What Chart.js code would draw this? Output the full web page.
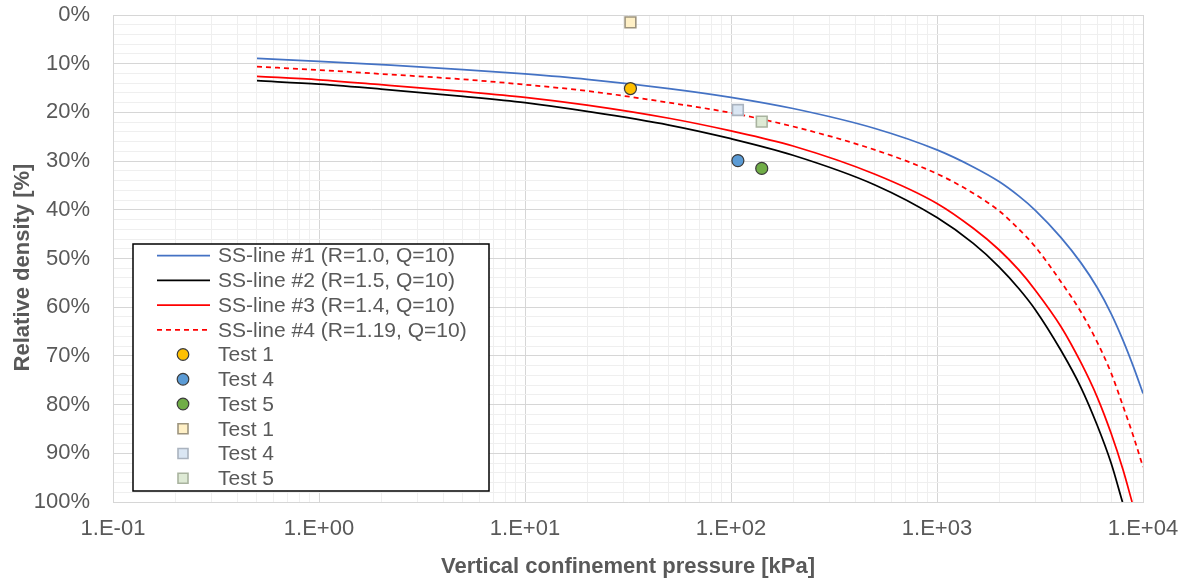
<!DOCTYPE html>
<html>
<head>
<meta charset="utf-8">
<script src="https://cdn.jsdelivr.net/npm/chart.js@4.4.1/dist/chart.umd.min.js"></script>
<style>
  html, body { margin: 0; padding: 0; background: #ffffff; }
  #wrap { width: 1195px; height: 584px; position: relative; }
</style>
</head>
<body>
<div id="wrap"><canvas id="chart" width="1195" height="584"></canvas></div>
<script>
// Vertical confinement pressure [kPa] at which each steady-state line is sampled
const pressure = [0.5, 1, 2, 5, 10, 20, 50, 100, 200, 500, 1000, 1500, 2000, 2500, 3000, 4000, 5000, 6000, 7000, 8000, 9000, 10000];
const pressureLine2 = [0.5, 1, 2, 5, 10, 20, 50, 100, 200, 500, 1000, 1500, 2000, 2500, 3000, 4000, 5000, 6000, 7000, 7950];
const pressureLine3 = [0.5, 1, 2, 5, 10, 20, 50, 100, 200, 500, 1000, 1500, 2000, 2500, 3000, 4000, 5000, 6000, 7000, 8000, 8850];

// Relative density [%] along each steady-state line
const ssLine1 = [8.9, 9.5, 10.2, 11.2, 12.1, 13.2, 15.1, 16.9, 19.2, 23.3, 27.7, 31.2, 34.2, 37.2, 40.1, 45.7, 50.9, 56.0, 61.3, 66.8, 72.3, 77.7];
const ssLine2 = [13.5, 14.2, 15.2, 16.7, 18.0, 19.8, 22.6, 25.4, 28.8, 34.9, 41.6, 46.9, 51.7, 56.2, 60.5, 68.9, 76.5, 84.3, 92.0, 100];
const ssLine3 = [12.6, 13.3, 14.3, 15.7, 16.9, 18.5, 21.2, 23.8, 26.9, 32.7, 38.7, 43.8, 48.2, 52.4, 56.5, 64.0, 71.4, 78.5, 85.9, 93.4, 100];
const ssLine4 = [10.6, 11.3, 12.1, 13.2, 14.3, 15.6, 18.0, 20.1, 22.9, 27.7, 32.6, 36.6, 40.2, 44.0, 47.6, 54.8, 61.0, 67.2, 73.5, 80.3, 86.6, 92.8];
const lineNames = ['SS-line #1 (R=1.0, Q=10)', 'SS-line #2 (R=1.5, Q=10)', 'SS-line #3 (R=1.4, Q=10)', 'SS-line #4 (R=1.19, Q=10)'];

// Laboratory tests
const testNames = ['Test 1', 'Test 4', 'Test 5'];
const testPressure = [32.5, 108, 141];
const testDensityCircle = [15.1, 29.9, 31.5];
const testDensitySquare = [1.5, 19.5, 21.9];

// Axis tick labels
const xDecades = [0.1, 1, 10, 100, 1000, 10000];
const xTickLabels = ['1.E-01', '1.E+00', '1.E+01', '1.E+02', '1.E+03', '1.E+04'];
const yTickLabels = ['0%', '10%', '20%', '30%', '40%', '50%', '60%', '70%', '80%', '90%', '100%'];

const TEXT = '#595959';
const FONT = "'Liberation Sans', Arial, sans-serif";

const toPoints = (xs, ys) => xs.map((x, i) => ({ x, y: ys[i] }));

function lineSet(label, xs, ys, color, width, dash) {
  return {
    label, data: toPoints(xs, ys), showLine: true,
    borderColor: color, backgroundColor: color, borderWidth: width, borderDash: dash || [],
    pointRadius: 0, pointHoverRadius: 0, cubicInterpolationMode: 'monotone', order: 1
  };
}
function markerSet(label, i, ys, style, fill, stroke, radius, bw) {
  return {
    label, data: [{ x: testPressure[i], y: ys[i] }], showLine: false,
    pointStyle: style, pointRadius: radius, pointHoverRadius: radius,
    backgroundColor: fill, borderColor: stroke, pointBorderWidth: bw, borderWidth: bw, order: 0
  };
}

const datasets = [
  lineSet(lineNames[0], pressure, ssLine1, '#4472C4', 1.75),
  lineSet(lineNames[1], pressureLine2, ssLine2, '#000000', 1.75),
  lineSet(lineNames[2], pressureLine3, ssLine3, '#FF0000', 1.75),
  lineSet(lineNames[3], pressure, ssLine4, '#FF0000', 1.75, [5, 4]),
  markerSet(testNames[0], 0, testDensityCircle, 'circle', '#FFC000', '#3a3a3a', 6, 1.2),
  markerSet(testNames[1], 1, testDensityCircle, 'circle', '#5B9BD5', '#3a3a3a', 6, 1.2),
  markerSet(testNames[2], 2, testDensityCircle, 'circle', '#70AD47', '#3a3a3a', 6, 1.2),
  markerSet(testNames[0], 0, testDensitySquare, 'rect', '#FFF0C6', '#9d947e', 7.6, 1.6),
  markerSet(testNames[1], 1, testDensitySquare, 'rect', '#DAE6F3', '#aab3bf', 7.6, 1.6),
  markerSet(testNames[2], 2, testDensitySquare, 'rect', '#DEEAD5', '#a9b39f', 7.6, 1.6)
];

const isDecade = v => Math.abs(Math.log10(v) - Math.round(Math.log10(v))) < 1e-9;

// Log grid: 1..9 per decade
const xGrid = [];
for (let d = 0; d < xDecades.length - 1; d++) {
  for (let m = 1; m <= 9; m++) xGrid.push(xDecades[d] * m);
}
xGrid.push(xDecades[xDecades.length - 1]);

const yGrid = [];
for (let v = 0; v <= 100; v += 2) yGrid.push(v);

// Legend drawn inside the plot area, lower left
const insideLegend = {
  id: 'insideLegend',
  afterDraw(chart) {
    const ctx = chart.ctx;
    const bx = 133, by = 244, bw = 356, bh = 247;
    ctx.save();
    ctx.fillStyle = '#ffffff';
    ctx.fillRect(bx, by, bw, bh);
    ctx.strokeStyle = '#000000';
    ctx.lineWidth = 1.5;
    ctx.strokeRect(bx, by, bw, bh);
    ctx.font = '21px ' + FONT;
    ctx.textBaseline = 'middle';
    ctx.textAlign = 'left';
    chart.data.datasets.forEach((ds, i) => {
      const cy = by + 11.5 + i * 24.75;
      if (ds.showLine) {
        ctx.save();
        ctx.strokeStyle = ds.borderColor;
        ctx.lineWidth = ds.borderWidth;
        ctx.setLineDash(ds.borderDash);
        ctx.beginPath();
        ctx.moveTo(157, cy);
        ctx.lineTo(210, cy);
        ctx.stroke();
        ctx.restore();
      } else {
        ctx.save();
        ctx.fillStyle = ds.backgroundColor;
        ctx.strokeStyle = ds.borderColor;
        ctx.lineWidth = ds.borderWidth;
        ctx.beginPath();
        if (ds.pointStyle === 'circle') {
          ctx.arc(183, cy, 5.8, 0, Math.PI * 2);
        } else {
          ctx.rect(178, cy - 5, 10, 10);
        }
        ctx.fill();
        ctx.stroke();
        ctx.restore();
      }
      ctx.fillStyle = TEXT;
      ctx.fillText(ds.label, 218, cy + 1);
    });
    ctx.restore();
  }
};

// Y-axis title, drawn slightly below the middle of the plot height
const yTitle = {
  id: 'yTitle',
  afterDraw(chart) {
    const ctx = chart.ctx;
    const area = chart.chartArea;
    ctx.save();
    ctx.translate(23, (area.top + area.bottom) / 2 + 9);
    ctx.rotate(-Math.PI / 2);
    ctx.font = 'bold 22px ' + FONT;
    ctx.fillStyle = TEXT;
    ctx.textAlign = 'center';
    ctx.textBaseline = 'middle';
    ctx.fillText('Relative density [%]', 0, 0);
    ctx.restore();
  }
};

new Chart(document.getElementById('chart'), {
  type: 'scatter',
  data: { datasets },
  plugins: [insideLegend, yTitle],
  options: {
    responsive: false,
    animation: false,
    devicePixelRatio: 1,
    layout: { padding: { top: 15, right: 52, bottom: 0, left: 0 } },
    plugins: { legend: { display: false }, tooltip: { enabled: false } },
    scales: {
      x: {
        type: 'logarithmic',
        min: 0.1,
        max: 10000,
        afterFit(s) { s.height = 82; s.paddingLeft = 0; s.paddingRight = 0; },
        afterBuildTicks(s) { s.ticks = xGrid.map(v => ({ value: v, major: isDecade(v) })); },
        ticks: {
          autoSkip: false,
          maxRotation: 0,
          padding: 14,
          color: TEXT,
          font: { family: FONT, size: 22 },
          callback(value) {
            const i = xDecades.findIndex(d => Math.abs(d - value) / d < 1e-9);
            return i >= 0 ? xTickLabels[i] : '';
          }
        },
        grid: {
          drawTicks: false,
          lineWidth: 1,
          color: ctx => (ctx.tick && isDecade(ctx.tick.value)) ? '#d6d6d6' : '#efefef'
        },
        border: { color: '#d6d6d6', width: 1 },
        title: {
          display: true,
          text: 'Vertical confinement pressure [kPa]',
          color: TEXT,
          padding: { top: 0, bottom: 4 },
          font: { family: FONT, size: 22, weight: 'bold' }
        }
      },
      y: {
        type: 'linear',
        reverse: true,
        min: 0,
        max: 100,
        afterFit(s) { s.width = 113; s.paddingTop = 0; s.paddingBottom = 0; },
        afterBuildTicks(s) { s.ticks = yGrid.map(v => ({ value: v })); },
        ticks: {
          autoSkip: false,
          padding: 23,
          color: TEXT,
          font: { family: FONT, size: 22 },
          callback(value) { return value % 10 === 0 ? yTickLabels[value / 10] : ''; }
        },
        grid: {
          drawTicks: false,
          lineWidth: 1,
          color: ctx => (ctx.tick && ctx.tick.value % 10 === 0) ? '#d6d6d6' : '#efefef'
        },
        border: { color: '#d6d6d6', width: 1 },
        title: { display: false }
      }
    }
  }
});
</script>
</body>
</html>
